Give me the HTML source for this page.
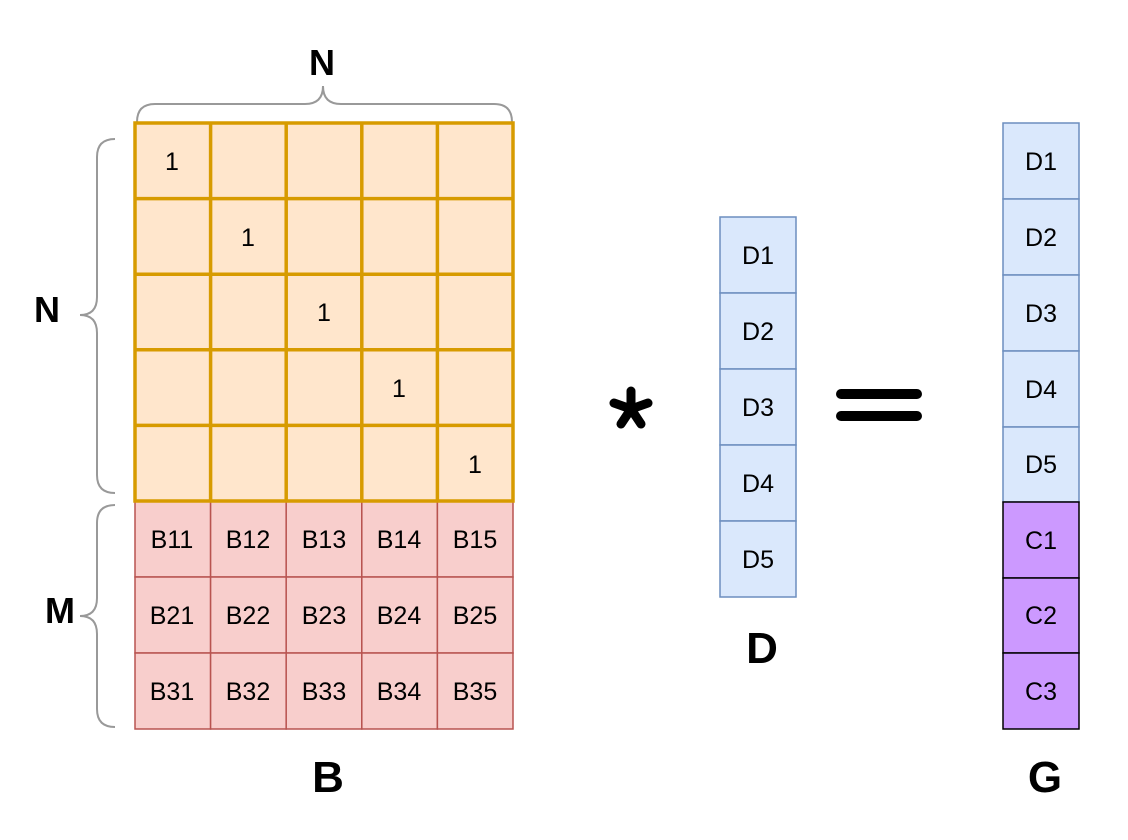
<!DOCTYPE html>
<html><head><meta charset="utf-8"><style>html,body{margin:0;padding:0;background:#fff}svg{display:block}</style></head>
<body>
<svg width="1128" height="840" viewBox="0 0 1128 840" xmlns="http://www.w3.org/2000/svg" font-family="Liberation Sans, sans-serif">
<rect width="1128" height="840" fill="#fff"/>
<g fill="none" stroke="#999" stroke-width="2">
<path d="M137 122 Q137 104 155 104 L305 104 Q323 104 323 86 Q323 104 341 104 L494 104 Q512 104 512 122"/>
<path d="M115 139 Q97 139 97 157 L97 297 Q97 315 80 315 Q97 315 97 333 L97 475 Q97 493 115 493"/>
<path d="M115 505 Q97 505 97 523 L97 598 Q97 616 80 616 Q97 616 97 634 L97 709 Q97 727 115 727"/>
</g>
<rect x="135" y="123" width="378" height="378" fill="#ffe6cc"/>
<g fill="#f8cecc" stroke="#b85450" stroke-width="1.5">
<rect x="135" y="501" width="75.6" height="76"/><rect x="210.6" y="501" width="75.6" height="76"/><rect x="286.2" y="501" width="75.6" height="76"/><rect x="361.8" y="501" width="75.6" height="76"/><rect x="437.4" y="501" width="75.6" height="76"/>
<rect x="135" y="577" width="75.6" height="76"/><rect x="210.6" y="577" width="75.6" height="76"/><rect x="286.2" y="577" width="75.6" height="76"/><rect x="361.8" y="577" width="75.6" height="76"/><rect x="437.4" y="577" width="75.6" height="76"/>
<rect x="135" y="653" width="75.6" height="76"/><rect x="210.6" y="653" width="75.6" height="76"/><rect x="286.2" y="653" width="75.6" height="76"/><rect x="361.8" y="653" width="75.6" height="76"/><rect x="437.4" y="653" width="75.6" height="76"/>
</g>
<g stroke="#d79b00" stroke-width="3.5" fill="none">
<rect x="135" y="123" width="378" height="378"/>
<line x1="210.6" y1="123" x2="210.6" y2="501"/><line x1="286.2" y1="123" x2="286.2" y2="501"/><line x1="361.8" y1="123" x2="361.8" y2="501"/><line x1="437.4" y1="123" x2="437.4" y2="501"/>
<line x1="135" y1="198.6" x2="513" y2="198.6"/><line x1="135" y1="274.2" x2="513" y2="274.2"/><line x1="135" y1="349.8" x2="513" y2="349.8"/><line x1="135" y1="425.4" x2="513" y2="425.4"/>
</g>
<g font-size="25" text-anchor="middle" fill="#000">
<text x="172" y="170">1</text><text x="248" y="246">1</text><text x="324" y="321">1</text><text x="399" y="397">1</text><text x="475" y="473">1</text>
<text x="172" y="548">B11</text><text x="248" y="548">B12</text><text x="324" y="548">B13</text><text x="399" y="548">B14</text><text x="475" y="548">B15</text>
<text x="172" y="624">B21</text><text x="248" y="624">B22</text><text x="324" y="624">B23</text><text x="399" y="624">B24</text><text x="475" y="624">B25</text>
<text x="172" y="700">B31</text><text x="248" y="700">B32</text><text x="324" y="700">B33</text><text x="399" y="700">B34</text><text x="475" y="700">B35</text>
</g>
<g fill="#dae8fc" stroke="#6c8ebf" stroke-width="1.5">
<rect x="720" y="217" width="76" height="76"/><rect x="720" y="293" width="76" height="76"/><rect x="720" y="369" width="76" height="76"/><rect x="720" y="445" width="76" height="76"/><rect x="720" y="521" width="76" height="76"/>
</g>
<g font-size="25" text-anchor="middle">
<text x="758" y="264">D1</text><text x="758" y="340">D2</text><text x="758" y="416">D3</text><text x="758" y="492">D4</text><text x="758" y="568">D5</text>
</g>
<g fill="#dae8fc" stroke="#6c8ebf" stroke-width="1.5">
<rect x="1003" y="123" width="76" height="76"/><rect x="1003" y="199" width="76" height="76"/><rect x="1003" y="275" width="76" height="76"/><rect x="1003" y="351" width="76" height="76"/><rect x="1003" y="427" width="76" height="75"/>
</g>
<g fill="#cc99ff" stroke="#000" stroke-width="1.5">
<rect x="1003" y="502" width="76" height="76"/><rect x="1003" y="578" width="76" height="75"/><rect x="1003" y="653" width="76" height="76"/>
</g>
<g font-size="25" text-anchor="middle">
<text x="1041" y="170">D1</text><text x="1041" y="246">D2</text><text x="1041" y="322">D3</text><text x="1041" y="398">D4</text><text x="1041" y="473">D5</text>
<text x="1041" y="549">C1</text><text x="1041" y="624">C2</text><text x="1041" y="700">C3</text>
</g>
<g stroke="#000" stroke-width="9" stroke-linecap="round">
<line x1="631" y1="409" x2="631" y2="391"/>
<line x1="631" y1="409" x2="648" y2="403"/>
<line x1="631" y1="409" x2="641" y2="424"/>
<line x1="631" y1="409" x2="621" y2="424"/>
<line x1="631" y1="409" x2="614" y2="403"/>
</g>
<rect x="836" y="389" width="86" height="10" rx="5" fill="#000"/>
<rect x="836" y="411" width="86" height="10" rx="5" fill="#000"/>
<g font-size="36" font-weight="bold" text-anchor="middle">
<text x="322" y="75">N</text>
<text x="47" y="322">N</text>
<text x="60" y="623">M</text>
<text x="328" y="792" font-size="44">B</text>
<text x="762" y="663" font-size="44">D</text>
<text x="1045" y="792" font-size="44">G</text>
</g>
</svg>
</body></html>
